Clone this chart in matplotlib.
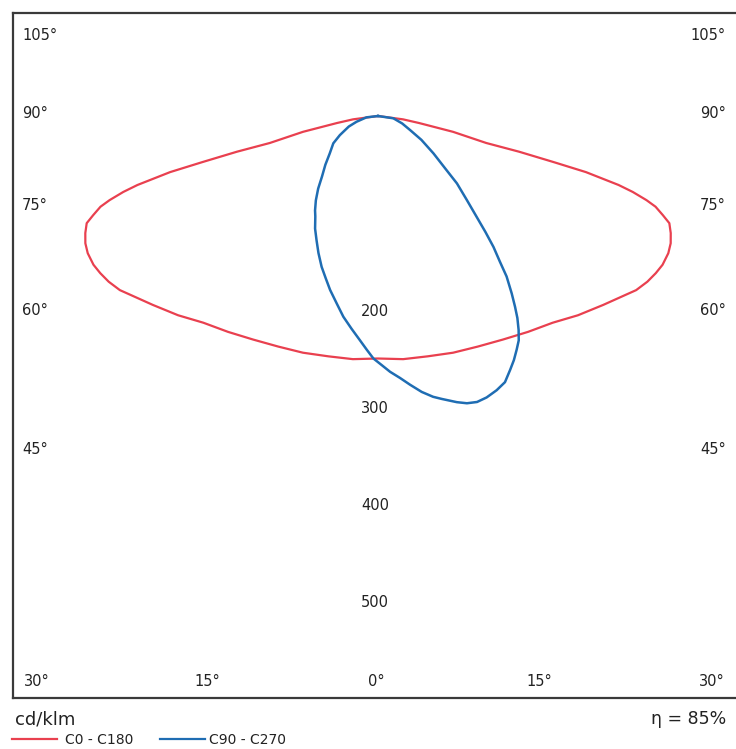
import numpy as np
import matplotlib
matplotlib.use("Agg")
import matplotlib.pyplot as plt
from matplotlib.lines import Line2D

# Lichtstärkeverteilung, cd/klm (Winkel ab Nadir, Grad)
c0_angles = [0, 5.9, 11.7, 17.6, 23.4, 29.2, 34.8, 40.2, 45.1, 50.0, 54.2, 56.0,
             58.4, 60.5, 62.4, 64.7, 66.5, 68.2, 69.8, 70.8, 71.9, 72.6, 73.4,
             74.0, 74.9, 75.3, 75.8, 76.0, 78.1, 80.3, 82.4, 90.0]
c0_values = [250, 252, 253, 256, 259, 264, 271, 279, 291, 303, 315, 321,
             326, 329, 331, 331, 329, 325, 320, 311, 301, 290, 274,
             258, 222, 187, 150, 115, 79, 43, 26, 0]

c90_angles = [-90, -83.4, -75.0, -70.2, -63.4, -58.6, -52.2, -47.2, -42.8, -39.5,
              -36.4, -33.7, -32.0, -29.2, -26.3, -23.5, -20.5, -17.8, -15.4, -12.4,
              -9.8, -7.1, -4.6, -2.8, -1.1, 0.9, 2.7, 4.8, 6.8, 9.0,
              11.1, 12.7, 15.4, 17.2, 19.1, 21.1, 23.4, 25.5, 27.5, 29.1,
              30.7, 32.1, 33.3, 34.6, 35.7, 37.0, 38.7, 39.9, 41.4, 42.8,
              44.4, 46.6, 49.5, 52.0, 56.0, 61.2, 66.4, 72.9, 81.5, 90]
c90_values = [0, 12, 23, 32, 44, 54, 63, 74, 85, 97,
              108, 117, 122, 133, 143, 154, 166, 176, 186, 198,
              210, 221, 232, 241, 250, 257, 264, 271, 279, 288,
              295, 299, 306, 310, 312, 311, 308, 304, 295, 288,
              280, 273, 264, 253, 242, 229, 212, 196, 180, 163,
              145, 126, 107, 88, 69, 51, 36, 26, 16, 0]

radial_ticks = [200, 300, 400, 500]
eta = 85

RED = "#e9404f"
BLUE = "#1f6db3"
W, H = 736, 749


def px(x, y):
    # Pixel -> Figurkoordinaten
    return x / W, 1 - y / H


def polar_xy(angles, values):
    a = np.radians(np.asarray(angles, dtype=float))
    r = np.asarray(values, dtype=float)
    return r * np.sin(a), -r * np.cos(a)


fig = plt.figure(figsize=(W / 100, H / 100), dpi=100)
l, b = px(13, 698)
r_, t = px(738, 13)
ax = fig.add_axes([l, b, r_ - l, t - b])

# C0 - C180 symmetrisch spiegeln
half_a = np.asarray(c0_angles)
half_v = np.asarray(c0_values)
red_a = np.concatenate([-half_a[::-1], half_a[1:]])
red_v = np.concatenate([half_v[::-1], half_v[1:]])
x, y = polar_xy(red_a, red_v)
ax.plot(x, y, color=RED, lw=1.6, solid_joinstyle="round")

x, y = polar_xy(c90_angles, c90_values)
ax.plot(x, y, color=BLUE, lw=1.8, solid_joinstyle="round")

ax.set_xlim(-376.3, 371.1)
ax.set_ylim(-600.0, 106.2)
ax.set_xticks([])
ax.set_yticks([])
for s in ax.spines.values():
    s.set_linewidth(1.6)
    s.set_color("#3a3a3a")

font = dict(family="DejaVu Sans", color="#222222")

for rv in radial_ticks:
    ax.text(-3, -rv - 2, str(rv), ha="center", va="center", fontsize=10.5, **font)

# Winkelbeschriftung am Rahmen
left_labels = [("105°", 36), ("90°", 113), ("75°", 206), ("60°", 310), ("45°", 450)]
for txt, yy in left_labels:
    fx, fy = px(22, yy)
    fig.text(fx, fy, txt, ha="left", va="center", fontsize=10.5, **font)
    fx, fy = px(726, yy)
    fig.text(fx, fy, txt, ha="right", va="center", fontsize=10.5, **font)

bottom_labels = [("30°", 37), ("15°", 207), ("0°", 376), ("15°", 539), ("30°", 712)]
for txt, xx in bottom_labels:
    fx, fy = px(xx, 682)
    fig.text(fx, fy, txt, ha="center", va="center", fontsize=10.5, **font)

fx, fy = px(15, 719)
fig.text(fx, fy, "cd/klm", ha="left", va="center", fontsize=13, **font)
fx, fy = px(726, 719)
fig.text(fx, fy, f"η = {eta}%", ha="right", va="center", fontsize=12.5, **font)

# Legende
for (x0, x1, xt, col, lab) in [(12, 57, 65, RED, "C0 - C180"), (160, 205, 209, BLUE, "C90 - C270")]:
    a0, yy = px(x0, 739)
    a1, _ = px(x1, 739)
    fig.add_artist(Line2D([a0, a1], [yy, yy], color=col, lw=1.6, transform=fig.transFigure))
    tx, ty = px(xt, 740)
    fig.text(tx, ty, lab, ha="left", va="center", fontsize=10, **font)

fig.savefig("out.png", dpi=100)
